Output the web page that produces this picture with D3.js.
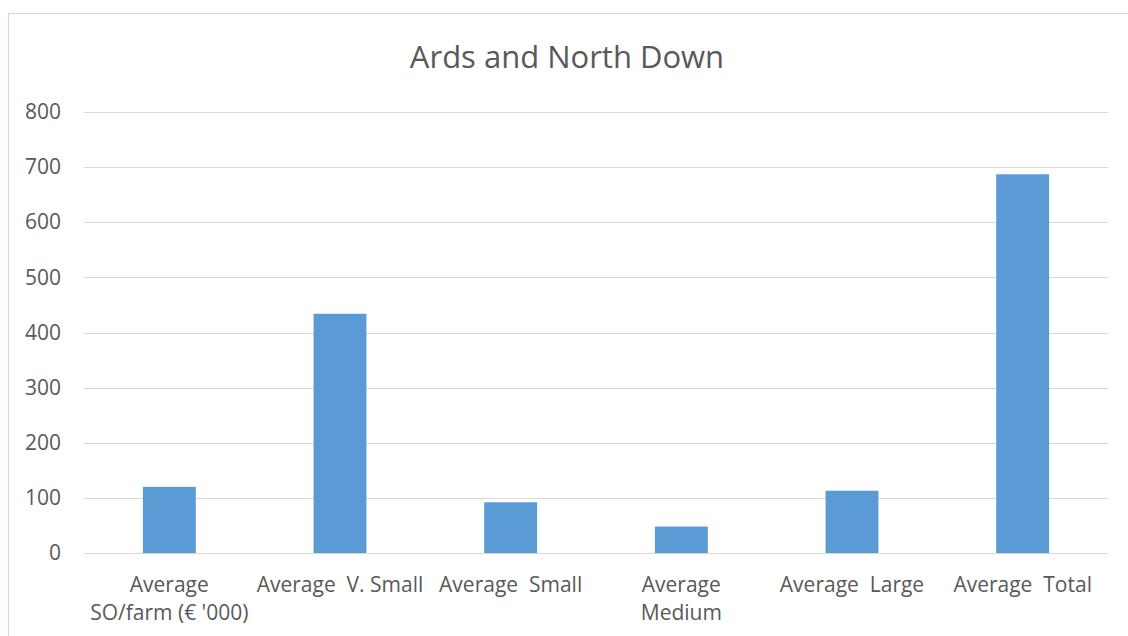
<!DOCTYPE html>
<html>
<head>
<meta charset="utf-8">
<script src="https://cdn.jsdelivr.net/npm/d3@7"></script>
<style>
  html, body { margin: 0; padding: 0; background: #fff; overflow: hidden; }
  svg { display: block; font-family: "Open Sans", sans-serif; }
</style>
</head>
<body>
<svg id="chart"></svg>
<script>
// data
const title = "Ards and North Down"
const categories = [
  "Average\nSO/farm (€ '000)",
  "Average  V. Small",
  "Average  Small",
  "Average\nMedium",
  "Average  Large",
  "Average  Total"
]
const values = [120, 434, 92, 48, 113, 687]
const yTicks = [0, 100, 200, 300, 400, 500, 600, 700, 800]

const full_width = 1128
const full_height = 636

const svg = d3.select("#chart")
  .attr("width", full_width)
  .attr("height", full_height)

// chart frame (right and bottom run off the picture)
svg.append("rect")
  .attr("x", 8.5)
  .attr("y", 13.5)
  .attr("width", full_width + 20)
  .attr("height", full_height + 20)
  .attr("fill", "none")
  .attr("stroke", "#d9d9d9")
  .attr("stroke-width", 1.2)

const plot = { left: 84, right: 1108, top: 112, bottom: 553 }

const x = d3.scaleBand()
  .domain(categories)
  .range([plot.left, plot.right])
  .paddingInner(0.69)
  .paddingOuter(0.345)

const y = d3.scaleLinear()
  .domain([0, 800])
  .range([plot.bottom, plot.top])

// gridlines
svg.append("g")
  .selectAll("line")
  .data(yTicks)
  .enter()
  .append("line")
  .attr("x1", plot.left)
  .attr("x2", plot.right)
  .attr("y1", d => Math.round(y(d)) + 0.5)
  .attr("y2", d => Math.round(y(d)) + 0.5)
  .attr("stroke", "#d9d9d9")
  .attr("stroke-width", 1.2)

// y axis labels
const yaxis = d3.axisLeft(y).tickValues(yTicks).tickSize(0).tickPadding(0)
svg.append("g")
  .attr("transform", "translate(61, 0)")
  .call(yaxis)
  .call(g => g.select(".domain").remove())
  .selectAll("text")
  .attr("fill", "#595959")
  .attr("font-size", "21px")
  .attr("font-family", "Open Sans, sans-serif")

// bars
svg.append("g")
  .selectAll("rect")
  .data(values)
  .enter()
  .append("rect")
  .attr("x", (d, i) => x(categories[i]))
  .attr("y", d => y(d))
  .attr("width", x.bandwidth())
  .attr("height", d => y(0) - y(d))
  .attr("fill", "#5b9bd5")

// category labels
const catLabels = svg.append("g")
  .selectAll("text")
  .data(categories)
  .enter()
  .append("text")
  .attr("x", d => x(d) + x.bandwidth() / 2)
  .attr("y", 592)
  .attr("text-anchor", "middle")
  .attr("font-size", "21px")
  .attr("fill", "#595959")
  .style("white-space", "pre")

catLabels.each(function(d) {
  const t = d3.select(this)
  d.split("\n").forEach((line, i) => {
    t.append("tspan")
      .attr("x", x(d) + x.bandwidth() / 2)
      .attr("dy", i === 0 ? 0 : 28)
      .text(line)
  })
})

// title
svg.append("text")
  .attr("x", (409 + 725) / 2)
  .attr("y", 68)
  .attr("text-anchor", "middle")
  .attr("font-size", "31px")
  .attr("fill", "#595959")
  .text(title)
</script>
</body>
</html>
